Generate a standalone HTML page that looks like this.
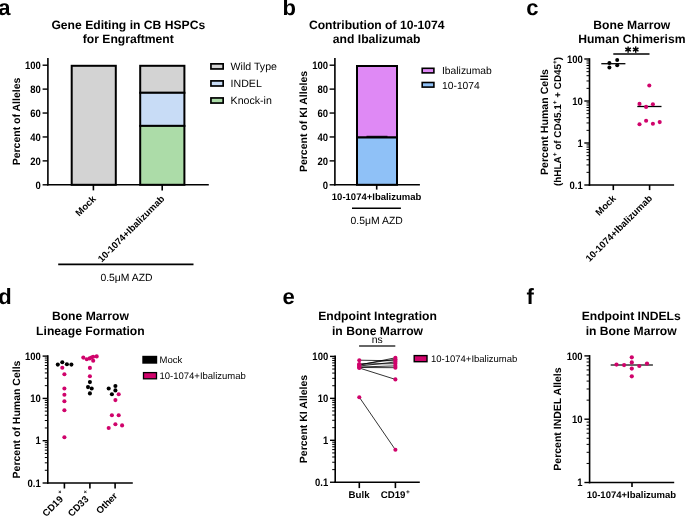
<!DOCTYPE html>
<html><head><meta charset="utf-8"><style>
html,body{margin:0;padding:0;background:#fff;}
svg{display:block;font-family:"Liberation Sans",sans-serif;will-change:transform;text-rendering:geometricPrecision;}
</style></head><body>
<svg width="685" height="516" viewBox="0 0 685 516">
<rect width="685" height="516" fill="#fff"/>
<text x="-1.7" y="14.9" font-size="22" font-weight="bold" text-anchor="start" fill="#000">a</text>
<text x="282.6" y="14.9" font-size="22" font-weight="bold" text-anchor="start" fill="#000">b</text>
<text x="526.2" y="14.9" font-size="22" font-weight="bold" text-anchor="start" fill="#000">c</text>
<text x="-1.7" y="303.9" font-size="22" font-weight="bold" text-anchor="start" fill="#000">d</text>
<text x="282.6" y="303.9" font-size="22" font-weight="bold" text-anchor="start" fill="#000">e</text>
<text x="526.5" y="303.5" font-size="22" font-weight="bold" text-anchor="start" fill="#000">f</text>
<text x="128.3" y="29.3" font-size="12.15" font-weight="bold" text-anchor="middle" fill="#000">Gene Editing in CB HSPCs</text>
<text x="128.3" y="43.3" font-size="12.15" font-weight="bold" text-anchor="middle" fill="#000">for Engraftment</text>
<text x="376.7" y="29.4" font-size="12.15" font-weight="bold" text-anchor="middle" fill="#000">Contribution of 10-1074</text>
<text x="376.7" y="43.4" font-size="12.15" font-weight="bold" text-anchor="middle" fill="#000">and Ibalizumab</text>
<text x="631.8" y="29.1" font-size="12.15" font-weight="bold" text-anchor="middle" fill="#000">Bone Marrow</text>
<text x="631.8" y="43.1" font-size="12.15" font-weight="bold" text-anchor="middle" fill="#000">Human Chimerism</text>
<text x="90.4" y="320.4" font-size="12.15" font-weight="bold" text-anchor="middle" fill="#000">Bone Marrow</text>
<text x="90.4" y="334.59999999999997" font-size="12.15" font-weight="bold" text-anchor="middle" fill="#000">Lineage Formation</text>
<text x="377.5" y="320.4" font-size="12.15" font-weight="bold" text-anchor="middle" fill="#000">Endpoint Integration</text>
<text x="377.5" y="334.59999999999997" font-size="12.15" font-weight="bold" text-anchor="middle" fill="#000">in Bone Marrow</text>
<text x="631.2" y="320.4" font-size="12.15" font-weight="bold" text-anchor="middle" fill="#000">Endpoint INDELs</text>
<text x="631.2" y="334.59999999999997" font-size="12.15" font-weight="bold" text-anchor="middle" fill="#000">in Bone Marrow</text>
<line x1="47.9" y1="57.9" x2="47.9" y2="185.60000000000002" stroke="#000" stroke-width="1.6"/>
<line x1="42.6" y1="184.8" x2="47.9" y2="184.8" stroke="#000" stroke-width="1.4"/>
<text x="0" y="0" font-size="10.8" font-weight="bold" text-anchor="end" fill="#000" transform="translate(40.8 188.55) scale(0.88 1)">0</text>
<line x1="42.6" y1="160.88" x2="47.9" y2="160.88" stroke="#000" stroke-width="1.4"/>
<text x="0" y="0" font-size="10.8" font-weight="bold" text-anchor="end" fill="#000" transform="translate(40.8 164.63) scale(0.88 1)">20</text>
<line x1="42.6" y1="136.96" x2="47.9" y2="136.96" stroke="#000" stroke-width="1.4"/>
<text x="0" y="0" font-size="10.8" font-weight="bold" text-anchor="end" fill="#000" transform="translate(40.8 140.71) scale(0.88 1)">40</text>
<line x1="42.6" y1="113.04" x2="47.9" y2="113.04" stroke="#000" stroke-width="1.4"/>
<text x="0" y="0" font-size="10.8" font-weight="bold" text-anchor="end" fill="#000" transform="translate(40.8 116.79) scale(0.88 1)">60</text>
<line x1="42.6" y1="89.12" x2="47.9" y2="89.12" stroke="#000" stroke-width="1.4"/>
<text x="0" y="0" font-size="10.8" font-weight="bold" text-anchor="end" fill="#000" transform="translate(40.8 92.87) scale(0.88 1)">80</text>
<line x1="42.6" y1="65.20000000000002" x2="47.9" y2="65.20000000000002" stroke="#000" stroke-width="1.4"/>
<text x="0" y="0" font-size="10.8" font-weight="bold" text-anchor="end" fill="#000" transform="translate(40.8 68.95000000000002) scale(0.88 1)">100</text>
<line x1="47.1" y1="184.8" x2="208.8" y2="184.8" stroke="#000" stroke-width="1.6"/>
<rect x="71.7" y="65.8" width="44.1" height="119.00000000000001" fill="#d3d3d3" stroke="#000" stroke-width="2.0"/>
<rect x="140.2" y="65.8" width="44.2" height="27.0" fill="#d3d3d3" stroke="#000" stroke-width="2.0"/>
<rect x="140.2" y="92.8" width="44.2" height="33.10000000000001" fill="#c8dcf6" stroke="#000" stroke-width="2.0"/>
<rect x="140.2" y="125.9" width="44.2" height="58.900000000000006" fill="#acdca8" stroke="#000" stroke-width="2.0"/>
<line x1="93.4" y1="184.8" x2="93.4" y2="190.4" stroke="#000" stroke-width="1.6"/>
<line x1="162.2" y1="184.8" x2="162.2" y2="190.4" stroke="#000" stroke-width="1.6"/>
<text x="96.5" y="199.5" font-size="9.5" font-weight="bold" text-anchor="end" fill="#000" transform="rotate(-45 96.5 199.5)">Mock</text>
<text x="165" y="199.5" font-size="9.5" font-weight="bold" text-anchor="end" fill="#000" transform="rotate(-45 165 199.5)">10-1074+Ibalizumab</text>
<line x1="58.2" y1="264.4" x2="193.5" y2="264.4" stroke="#000" stroke-width="1.6"/>
<text x="126.5" y="281.2" font-size="10.4" text-anchor="middle" fill="#000">0.5&#956;M AZD</text>
<text x="19.5" y="121.5" font-size="10.5" font-weight="bold" text-anchor="middle" fill="#000" transform="rotate(-90 19.5 121.5)">Percent of Alleles</text>
<rect x="210.95" y="63.85000000000001" width="12.2" height="5.1" fill="#d3d3d3" stroke="#000" stroke-width="1.7"/>
<text x="230.6" y="70.10000000000001" font-size="10.6" text-anchor="start" fill="#000">Wild Type</text>
<rect x="210.95" y="80.9" width="12.2" height="5.1" fill="#c8dcf6" stroke="#000" stroke-width="1.7"/>
<text x="230.6" y="87.15" font-size="10.6" text-anchor="start" fill="#000">INDEL</text>
<rect x="210.95" y="97.95" width="12.2" height="5.1" fill="#acdca8" stroke="#000" stroke-width="1.7"/>
<text x="230.6" y="104.2" font-size="10.6" text-anchor="start" fill="#000">Knock-in</text>
<line x1="334.9" y1="57.9" x2="334.9" y2="185.60000000000002" stroke="#000" stroke-width="1.6"/>
<line x1="329.59999999999997" y1="184.8" x2="334.9" y2="184.8" stroke="#000" stroke-width="1.4"/>
<text x="0" y="0" font-size="10.8" font-weight="bold" text-anchor="end" fill="#000" transform="translate(328.0 188.55) scale(0.88 1)">0</text>
<line x1="329.59999999999997" y1="160.88" x2="334.9" y2="160.88" stroke="#000" stroke-width="1.4"/>
<text x="0" y="0" font-size="10.8" font-weight="bold" text-anchor="end" fill="#000" transform="translate(328.0 164.63) scale(0.88 1)">20</text>
<line x1="329.59999999999997" y1="136.96" x2="334.9" y2="136.96" stroke="#000" stroke-width="1.4"/>
<text x="0" y="0" font-size="10.8" font-weight="bold" text-anchor="end" fill="#000" transform="translate(328.0 140.71) scale(0.88 1)">40</text>
<line x1="329.59999999999997" y1="113.04" x2="334.9" y2="113.04" stroke="#000" stroke-width="1.4"/>
<text x="0" y="0" font-size="10.8" font-weight="bold" text-anchor="end" fill="#000" transform="translate(328.0 116.79) scale(0.88 1)">60</text>
<line x1="329.59999999999997" y1="89.12" x2="334.9" y2="89.12" stroke="#000" stroke-width="1.4"/>
<text x="0" y="0" font-size="10.8" font-weight="bold" text-anchor="end" fill="#000" transform="translate(328.0 92.87) scale(0.88 1)">80</text>
<line x1="329.59999999999997" y1="65.20000000000002" x2="334.9" y2="65.20000000000002" stroke="#000" stroke-width="1.4"/>
<text x="0" y="0" font-size="10.8" font-weight="bold" text-anchor="end" fill="#000" transform="translate(328.0 68.95000000000002) scale(0.88 1)">100</text>
<line x1="334.09999999999997" y1="184.8" x2="419.9" y2="184.8" stroke="#000" stroke-width="1.6"/>
<rect x="357.0" y="66.0" width="40.0" height="71.5" fill="#df89f5" stroke="#000" stroke-width="2.0"/>
<rect x="357.0" y="137.5" width="40.0" height="47.30000000000001" fill="#8fc1f7" stroke="#000" stroke-width="2.0"/>
<line x1="366.5" y1="136.3" x2="387.5" y2="136.3" stroke="#000" stroke-width="1.0"/>
<line x1="376.7" y1="184.8" x2="376.7" y2="189.6" stroke="#000" stroke-width="1.6"/>
<text x="376.6" y="200.1" font-size="9.5" font-weight="bold" text-anchor="middle" fill="#000">10-1074+Ibalizumab</text>
<line x1="352" y1="208.2" x2="400.9" y2="208.2" stroke="#000" stroke-width="1.6"/>
<text x="376.7" y="223.8" font-size="10.4" text-anchor="middle" fill="#000">0.5&#956;M AZD</text>
<text x="307" y="121.5" font-size="10.5" font-weight="bold" text-anchor="middle" fill="#000" transform="rotate(-90 307 121.5)">Percent of KI Alleles</text>
<rect x="422.2" y="68.3" width="11.7" height="4.6" fill="#df89f5" stroke="#000" stroke-width="1.6"/>
<text x="442.0" y="74.3" font-size="10.3" text-anchor="start" fill="#000">Ibalizumab</text>
<rect x="422.2" y="82.5" width="11.7" height="4.6" fill="#8fc1f7" stroke="#000" stroke-width="1.6"/>
<text x="442.0" y="88.5" font-size="10.3" text-anchor="start" fill="#000">10-1074</text>
<line x1="589.5" y1="58.2" x2="589.5" y2="185.8" stroke="#000" stroke-width="1.6"/>
<line x1="584.3" y1="59.0" x2="589.5" y2="59.0" stroke="#000" stroke-width="1.4"/>
<text x="0" y="0" font-size="10.8" font-weight="bold" text-anchor="end" fill="#000" transform="translate(582.8 62.75) scale(0.88 1)">100</text>
<line x1="584.3" y1="101.0" x2="589.5" y2="101.0" stroke="#000" stroke-width="1.4"/>
<text x="0" y="0" font-size="10.8" font-weight="bold" text-anchor="end" fill="#000" transform="translate(582.8 104.75) scale(0.88 1)">10</text>
<line x1="584.3" y1="143.0" x2="589.5" y2="143.0" stroke="#000" stroke-width="1.4"/>
<text x="0" y="0" font-size="10.8" font-weight="bold" text-anchor="end" fill="#000" transform="translate(582.8 146.75) scale(0.88 1)">1</text>
<line x1="584.3" y1="185.0" x2="589.5" y2="185.0" stroke="#000" stroke-width="1.4"/>
<text x="0" y="0" font-size="10.8" font-weight="bold" text-anchor="end" fill="#000" transform="translate(582.8 188.75) scale(0.88 1)">0.1</text>
<line x1="586.5" y1="88.35674018211279" x2="589.5" y2="88.35674018211279" stroke="#000" stroke-width="1.0"/>
<line x1="586.5" y1="80.96090730177418" x2="589.5" y2="80.96090730177418" stroke="#000" stroke-width="1.0"/>
<line x1="586.5" y1="75.71348036422557" x2="589.5" y2="75.71348036422557" stroke="#000" stroke-width="1.0"/>
<line x1="586.5" y1="71.64325981788721" x2="589.5" y2="71.64325981788721" stroke="#000" stroke-width="1.0"/>
<line x1="586.5" y1="68.31764748388697" x2="589.5" y2="68.31764748388697" stroke="#000" stroke-width="1.0"/>
<line x1="586.5" y1="65.50588231940121" x2="589.5" y2="65.50588231940121" stroke="#000" stroke-width="1.0"/>
<line x1="586.5" y1="63.07022054633837" x2="589.5" y2="63.07022054633837" stroke="#000" stroke-width="1.0"/>
<line x1="586.5" y1="60.92181460354836" x2="589.5" y2="60.92181460354836" stroke="#000" stroke-width="1.0"/>
<line x1="586.5" y1="130.3567401821128" x2="589.5" y2="130.3567401821128" stroke="#000" stroke-width="1.0"/>
<line x1="586.5" y1="122.96090730177417" x2="589.5" y2="122.96090730177417" stroke="#000" stroke-width="1.0"/>
<line x1="586.5" y1="117.71348036422557" x2="589.5" y2="117.71348036422557" stroke="#000" stroke-width="1.0"/>
<line x1="586.5" y1="113.64325981788721" x2="589.5" y2="113.64325981788721" stroke="#000" stroke-width="1.0"/>
<line x1="586.5" y1="110.31764748388696" x2="589.5" y2="110.31764748388696" stroke="#000" stroke-width="1.0"/>
<line x1="586.5" y1="107.50588231940121" x2="589.5" y2="107.50588231940121" stroke="#000" stroke-width="1.0"/>
<line x1="586.5" y1="105.07022054633836" x2="589.5" y2="105.07022054633836" stroke="#000" stroke-width="1.0"/>
<line x1="586.5" y1="102.92181460354837" x2="589.5" y2="102.92181460354837" stroke="#000" stroke-width="1.0"/>
<line x1="586.5" y1="172.3567401821128" x2="589.5" y2="172.3567401821128" stroke="#000" stroke-width="1.0"/>
<line x1="586.5" y1="164.96090730177417" x2="589.5" y2="164.96090730177417" stroke="#000" stroke-width="1.0"/>
<line x1="586.5" y1="159.71348036422557" x2="589.5" y2="159.71348036422557" stroke="#000" stroke-width="1.0"/>
<line x1="586.5" y1="155.6432598178872" x2="589.5" y2="155.6432598178872" stroke="#000" stroke-width="1.0"/>
<line x1="586.5" y1="152.31764748388696" x2="589.5" y2="152.31764748388696" stroke="#000" stroke-width="1.0"/>
<line x1="586.5" y1="149.50588231940122" x2="589.5" y2="149.50588231940122" stroke="#000" stroke-width="1.0"/>
<line x1="586.5" y1="147.07022054633836" x2="589.5" y2="147.07022054633836" stroke="#000" stroke-width="1.0"/>
<line x1="586.5" y1="144.92181460354834" x2="589.5" y2="144.92181460354834" stroke="#000" stroke-width="1.0"/>
<line x1="588.7" y1="185.0" x2="674.1" y2="185.0" stroke="#000" stroke-width="1.6"/>
<line x1="613.3" y1="185.0" x2="613.3" y2="190.1" stroke="#000" stroke-width="1.6"/>
<line x1="649.6" y1="185.0" x2="649.6" y2="190.1" stroke="#000" stroke-width="1.6"/>
<line x1="601.3" y1="63.7" x2="625.4" y2="63.7" stroke="#000" stroke-width="1.3"/>
<circle cx="609.4" cy="63.1" r="2.0" fill="#000"/>
<circle cx="609.4" cy="67.55" r="2.0" fill="#000"/>
<circle cx="617.2" cy="60.1" r="2.0" fill="#000"/>
<circle cx="617.2" cy="65.2" r="2.0" fill="#000"/>
<line x1="637.3" y1="106.5" x2="661.5" y2="106.5" stroke="#000" stroke-width="1.3"/>
<circle cx="649.3" cy="85.5" r="2.05" fill="#d0036b"/>
<circle cx="639.5" cy="103.9" r="2.05" fill="#d0036b"/>
<circle cx="646.1" cy="106.9" r="2.05" fill="#d0036b"/>
<circle cx="652.9" cy="104.2" r="2.05" fill="#d0036b"/>
<circle cx="639.5" cy="124.2" r="2.05" fill="#d0036b"/>
<circle cx="646.1" cy="120.8" r="2.05" fill="#d0036b"/>
<circle cx="652.9" cy="123.8" r="2.05" fill="#d0036b"/>
<circle cx="659.7" cy="122.1" r="2.05" fill="#d0036b"/>
<line x1="613.3" y1="54.1" x2="649.5" y2="54.1" stroke="#000" stroke-width="1.5"/>
<line x1="628.1" y1="46.4" x2="628.1" y2="52.8" stroke="#000" stroke-width="1.45"/>
<line x1="625.33" y1="48.0" x2="630.87" y2="51.2" stroke="#000" stroke-width="1.45"/>
<line x1="625.33" y1="51.2" x2="630.87" y2="48.0" stroke="#000" stroke-width="1.45"/>
<line x1="635.7" y1="46.4" x2="635.7" y2="52.8" stroke="#000" stroke-width="1.45"/>
<line x1="632.93" y1="48.0" x2="638.47" y2="51.2" stroke="#000" stroke-width="1.45"/>
<line x1="632.93" y1="51.2" x2="638.47" y2="48.0" stroke="#000" stroke-width="1.45"/>
<text x="616.5" y="199" font-size="9.5" font-weight="bold" text-anchor="end" fill="#000" transform="rotate(-45 616.5 199)">Mock</text>
<text x="652.8" y="199" font-size="9.5" font-weight="bold" text-anchor="end" fill="#000" transform="rotate(-45 652.8 199)">10-1074+Ibalizumab</text>
<text x="548.2" y="122" font-size="10.6" font-weight="bold" text-anchor="middle" fill="#000" transform="rotate(-90 548.2 122)">Percent Human Cells</text>
<text x="561.2" y="121.4" font-size="9.9" font-weight="bold" text-anchor="middle" transform="rotate(-90 561.2 121.4)">(hHLA<tspan font-size="6.5" dy="-4">+</tspan><tspan dy="4"> of CD45.1</tspan><tspan font-size="6.5" dy="-4">+</tspan><tspan dy="4"> + CD45</tspan><tspan font-size="6.5" dy="-4">+</tspan><tspan dy="4">)</tspan></text>
<line x1="47.8" y1="355.3" x2="47.8" y2="483.8" stroke="#000" stroke-width="1.6"/>
<line x1="42.599999999999994" y1="356.1" x2="47.8" y2="356.1" stroke="#000" stroke-width="1.4"/>
<text x="0" y="0" font-size="10.8" font-weight="bold" text-anchor="end" fill="#000" transform="translate(40.8 359.85) scale(0.88 1)">100</text>
<line x1="42.599999999999994" y1="398.40000000000003" x2="47.8" y2="398.40000000000003" stroke="#000" stroke-width="1.4"/>
<text x="0" y="0" font-size="10.8" font-weight="bold" text-anchor="end" fill="#000" transform="translate(40.8 402.15000000000003) scale(0.88 1)">10</text>
<line x1="42.599999999999994" y1="440.70000000000005" x2="47.8" y2="440.70000000000005" stroke="#000" stroke-width="1.4"/>
<text x="0" y="0" font-size="10.8" font-weight="bold" text-anchor="end" fill="#000" transform="translate(40.8 444.45000000000005) scale(0.88 1)">1</text>
<line x1="42.599999999999994" y1="483.0" x2="47.8" y2="483.0" stroke="#000" stroke-width="1.4"/>
<text x="0" y="0" font-size="10.8" font-weight="bold" text-anchor="end" fill="#000" transform="translate(40.8 486.75) scale(0.88 1)">0.1</text>
<line x1="44.8" y1="385.66643118341364" x2="47.8" y2="385.66643118341364" stroke="#000" stroke-width="1.0"/>
<line x1="44.8" y1="378.2177709253583" x2="47.8" y2="378.2177709253583" stroke="#000" stroke-width="1.0"/>
<line x1="44.8" y1="372.9328623668272" x2="47.8" y2="372.9328623668272" stroke="#000" stroke-width="1.0"/>
<line x1="44.8" y1="368.8335688165864" x2="47.8" y2="368.8335688165864" stroke="#000" stroke-width="1.0"/>
<line x1="44.8" y1="365.4842021087719" x2="47.8" y2="365.4842021087719" stroke="#000" stroke-width="1.0"/>
<line x1="44.8" y1="362.65235290739696" x2="47.8" y2="362.65235290739696" stroke="#000" stroke-width="1.0"/>
<line x1="44.8" y1="360.19929355024084" x2="47.8" y2="360.19929355024084" stroke="#000" stroke-width="1.0"/>
<line x1="44.8" y1="358.0355418507166" x2="47.8" y2="358.0355418507166" stroke="#000" stroke-width="1.0"/>
<line x1="44.8" y1="427.9664311834136" x2="47.8" y2="427.9664311834136" stroke="#000" stroke-width="1.0"/>
<line x1="44.8" y1="420.5177709253583" x2="47.8" y2="420.5177709253583" stroke="#000" stroke-width="1.0"/>
<line x1="44.8" y1="415.2328623668272" x2="47.8" y2="415.2328623668272" stroke="#000" stroke-width="1.0"/>
<line x1="44.8" y1="411.13356881658643" x2="47.8" y2="411.13356881658643" stroke="#000" stroke-width="1.0"/>
<line x1="44.8" y1="407.78420210877186" x2="47.8" y2="407.78420210877186" stroke="#000" stroke-width="1.0"/>
<line x1="44.8" y1="404.95235290739697" x2="47.8" y2="404.95235290739697" stroke="#000" stroke-width="1.0"/>
<line x1="44.8" y1="402.4992935502408" x2="47.8" y2="402.4992935502408" stroke="#000" stroke-width="1.0"/>
<line x1="44.8" y1="400.3355418507166" x2="47.8" y2="400.3355418507166" stroke="#000" stroke-width="1.0"/>
<line x1="44.8" y1="470.2664311834136" x2="47.8" y2="470.2664311834136" stroke="#000" stroke-width="1.0"/>
<line x1="44.8" y1="462.8177709253583" x2="47.8" y2="462.8177709253583" stroke="#000" stroke-width="1.0"/>
<line x1="44.8" y1="457.5328623668272" x2="47.8" y2="457.5328623668272" stroke="#000" stroke-width="1.0"/>
<line x1="44.8" y1="453.43356881658644" x2="47.8" y2="453.43356881658644" stroke="#000" stroke-width="1.0"/>
<line x1="44.8" y1="450.0842021087719" x2="47.8" y2="450.0842021087719" stroke="#000" stroke-width="1.0"/>
<line x1="44.8" y1="447.2523529073969" x2="47.8" y2="447.2523529073969" stroke="#000" stroke-width="1.0"/>
<line x1="44.8" y1="444.7992935502408" x2="47.8" y2="444.7992935502408" stroke="#000" stroke-width="1.0"/>
<line x1="44.8" y1="442.63554185071655" x2="47.8" y2="442.63554185071655" stroke="#000" stroke-width="1.0"/>
<line x1="47.0" y1="483.0" x2="132.8" y2="483.0" stroke="#000" stroke-width="1.6"/>
<line x1="64.4" y1="483.0" x2="64.4" y2="488.5" stroke="#000" stroke-width="1.6"/>
<line x1="89.9" y1="483.0" x2="89.9" y2="488.5" stroke="#000" stroke-width="1.6"/>
<line x1="115.1" y1="483.0" x2="115.1" y2="488.5" stroke="#000" stroke-width="1.6"/>
<text x="19.7" y="419.5" font-size="10.5" font-weight="bold" text-anchor="middle" fill="#000" transform="rotate(-90 19.7 419.5)">Percent of Human Cells</text>
<text x="67" y="496.5" font-size="9.6" font-weight="bold" text-anchor="end" transform="rotate(-45 67 496.5)">CD19<tspan font-size="6" dy="-6.3" dx="1.2">+</tspan></text>
<text x="92.5" y="496.5" font-size="9.6" font-weight="bold" text-anchor="end" transform="rotate(-45 92.5 496.5)">CD33<tspan font-size="6" dy="-6.3" dx="1.2">+</tspan></text>
<text x="118" y="496.5" font-size="9.6" font-weight="bold" text-anchor="end" fill="#000" transform="rotate(-45 118 496.5)">Other</text>
<circle cx="57.8" cy="364.6" r="2.05" fill="#000"/>
<circle cx="62.3" cy="362.3" r="2.05" fill="#000"/>
<circle cx="66.9" cy="364.2" r="2.05" fill="#000"/>
<circle cx="71.4" cy="364.6" r="2.05" fill="#000"/>
<circle cx="89.9" cy="382.1" r="2.05" fill="#000"/>
<circle cx="88.0" cy="387.1" r="2.05" fill="#000"/>
<circle cx="91.7" cy="388.5" r="2.05" fill="#000"/>
<circle cx="89.9" cy="393.4" r="2.05" fill="#000"/>
<circle cx="108.7" cy="388.5" r="2.05" fill="#000"/>
<circle cx="115.4" cy="386.0" r="2.05" fill="#000"/>
<circle cx="115.4" cy="390.4" r="2.05" fill="#000"/>
<circle cx="111.9" cy="394.2" r="2.05" fill="#000"/>
<circle cx="62.3" cy="367.8" r="2.05" fill="#d0036b"/>
<circle cx="64.4" cy="374.2" r="2.05" fill="#d0036b"/>
<circle cx="64.4" cy="388.5" r="2.05" fill="#d0036b"/>
<circle cx="64.4" cy="394.8" r="2.05" fill="#d0036b"/>
<circle cx="64.4" cy="401.2" r="2.05" fill="#d0036b"/>
<circle cx="64.4" cy="410.2" r="2.05" fill="#d0036b"/>
<circle cx="64.4" cy="437.3" r="2.05" fill="#d0036b"/>
<circle cx="83.3" cy="357.6" r="2.05" fill="#d0036b"/>
<circle cx="86.8" cy="359.3" r="2.05" fill="#d0036b"/>
<circle cx="89.7" cy="358.4" r="2.05" fill="#d0036b"/>
<circle cx="91.5" cy="357.5" r="2.05" fill="#d0036b"/>
<circle cx="93.2" cy="356.7" r="2.05" fill="#d0036b"/>
<circle cx="96.7" cy="356.4" r="2.05" fill="#d0036b"/>
<circle cx="93.2" cy="360.7" r="2.05" fill="#d0036b"/>
<circle cx="89.9" cy="367.9" r="2.05" fill="#d0036b"/>
<circle cx="89.9" cy="376.3" r="2.05" fill="#d0036b"/>
<circle cx="118.7" cy="394.2" r="2.05" fill="#d0036b"/>
<circle cx="115.4" cy="400.1" r="2.05" fill="#d0036b"/>
<circle cx="111.9" cy="415.3" r="2.05" fill="#d0036b"/>
<circle cx="118.7" cy="415.3" r="2.05" fill="#d0036b"/>
<circle cx="115.4" cy="424.2" r="2.05" fill="#d0036b"/>
<circle cx="122.1" cy="425.4" r="2.05" fill="#d0036b"/>
<circle cx="108.7" cy="428.0" r="2.05" fill="#d0036b"/>
<rect x="142.3" y="355.8" width="14.9" height="7.9" fill="#000"/>
<rect x="143.5" y="372.6" width="13" height="6.2" fill="#d0036b" stroke="#000" stroke-width="1.3"/>
<text x="159.5" y="362.8" font-size="9.5" text-anchor="start" fill="#000">Mock</text>
<text x="159.5" y="378.9" font-size="9.5" text-anchor="start" fill="#000">10-1074+Ibalizumab</text>
<line x1="335.2" y1="355.59999999999997" x2="335.2" y2="483.05" stroke="#000" stroke-width="1.6"/>
<line x1="330.0" y1="356.4" x2="335.2" y2="356.4" stroke="#000" stroke-width="1.4"/>
<text x="0" y="0" font-size="10.8" font-weight="bold" text-anchor="end" fill="#000" transform="translate(328.2 360.15) scale(0.88 1)">100</text>
<line x1="330.0" y1="398.34999999999997" x2="335.2" y2="398.34999999999997" stroke="#000" stroke-width="1.4"/>
<text x="0" y="0" font-size="10.8" font-weight="bold" text-anchor="end" fill="#000" transform="translate(328.2 402.09999999999997) scale(0.88 1)">10</text>
<line x1="330.0" y1="440.29999999999995" x2="335.2" y2="440.29999999999995" stroke="#000" stroke-width="1.4"/>
<text x="0" y="0" font-size="10.8" font-weight="bold" text-anchor="end" fill="#000" transform="translate(328.2 444.04999999999995) scale(0.88 1)">1</text>
<line x1="330.0" y1="482.25" x2="335.2" y2="482.25" stroke="#000" stroke-width="1.4"/>
<text x="0" y="0" font-size="10.8" font-weight="bold" text-anchor="end" fill="#000" transform="translate(328.2 486.0) scale(0.88 1)">0.1</text>
<line x1="332.2" y1="385.721791681896" x2="335.2" y2="385.721791681896" stroke="#000" stroke-width="1.0"/>
<line x1="332.2" y1="378.33476336451014" x2="335.2" y2="378.33476336451014" stroke="#000" stroke-width="1.0"/>
<line x1="332.2" y1="373.09358336379194" x2="335.2" y2="373.09358336379194" stroke="#000" stroke-width="1.0"/>
<line x1="332.2" y1="369.028208318104" x2="335.2" y2="369.028208318104" stroke="#000" stroke-width="1.0"/>
<line x1="332.2" y1="365.70655504640615" x2="335.2" y2="365.70655504640615" stroke="#000" stroke-width="1.0"/>
<line x1="332.2" y1="362.8981372214019" x2="335.2" y2="362.8981372214019" stroke="#000" stroke-width="1.0"/>
<line x1="332.2" y1="360.46537504568795" x2="335.2" y2="360.46537504568795" stroke="#000" stroke-width="1.0"/>
<line x1="332.2" y1="358.3195267290203" x2="335.2" y2="358.3195267290203" stroke="#000" stroke-width="1.0"/>
<line x1="332.2" y1="427.67179168189597" x2="335.2" y2="427.67179168189597" stroke="#000" stroke-width="1.0"/>
<line x1="332.2" y1="420.2847633645101" x2="335.2" y2="420.2847633645101" stroke="#000" stroke-width="1.0"/>
<line x1="332.2" y1="415.043583363792" x2="335.2" y2="415.043583363792" stroke="#000" stroke-width="1.0"/>
<line x1="332.2" y1="410.978208318104" x2="335.2" y2="410.978208318104" stroke="#000" stroke-width="1.0"/>
<line x1="332.2" y1="407.65655504640614" x2="335.2" y2="407.65655504640614" stroke="#000" stroke-width="1.0"/>
<line x1="332.2" y1="404.8481372214019" x2="335.2" y2="404.8481372214019" stroke="#000" stroke-width="1.0"/>
<line x1="332.2" y1="402.41537504568794" x2="335.2" y2="402.41537504568794" stroke="#000" stroke-width="1.0"/>
<line x1="332.2" y1="400.2695267290203" x2="335.2" y2="400.2695267290203" stroke="#000" stroke-width="1.0"/>
<line x1="332.2" y1="469.62179168189596" x2="335.2" y2="469.62179168189596" stroke="#000" stroke-width="1.0"/>
<line x1="332.2" y1="462.2347633645102" x2="335.2" y2="462.2347633645102" stroke="#000" stroke-width="1.0"/>
<line x1="332.2" y1="456.99358336379197" x2="335.2" y2="456.99358336379197" stroke="#000" stroke-width="1.0"/>
<line x1="332.2" y1="452.928208318104" x2="335.2" y2="452.928208318104" stroke="#000" stroke-width="1.0"/>
<line x1="332.2" y1="449.60655504640613" x2="335.2" y2="449.60655504640613" stroke="#000" stroke-width="1.0"/>
<line x1="332.2" y1="446.79813722140193" x2="335.2" y2="446.79813722140193" stroke="#000" stroke-width="1.0"/>
<line x1="332.2" y1="444.3653750456879" x2="335.2" y2="444.3653750456879" stroke="#000" stroke-width="1.0"/>
<line x1="332.2" y1="442.21952672902034" x2="335.2" y2="442.21952672902034" stroke="#000" stroke-width="1.0"/>
<line x1="334.4" y1="482.25" x2="419.8" y2="482.25" stroke="#000" stroke-width="1.6"/>
<line x1="359.3" y1="482.25" x2="359.3" y2="488.1" stroke="#000" stroke-width="1.6"/>
<line x1="395.4" y1="482.25" x2="395.4" y2="488.1" stroke="#000" stroke-width="1.6"/>
<text x="359.1" y="498.1" font-size="9.7" font-weight="bold" text-anchor="middle" fill="#000">Bulk</text>
<text x="395.3" y="498.1" font-size="9.7" font-weight="bold" text-anchor="middle">CD19<tspan font-size="6.5" dy="-4.2" dx="0.6">+</tspan></text>
<text x="306.7" y="419" font-size="10.5" font-weight="bold" text-anchor="middle" fill="#000" transform="rotate(-90 306.7 419)">Percent KI Alleles</text>
<line x1="359.3" y1="360.2" x2="395.4" y2="360.8" stroke="#000" stroke-width="0.8"/>
<line x1="359.3" y1="365.0" x2="395.4" y2="357.8" stroke="#000" stroke-width="0.8"/>
<line x1="359.3" y1="364.5" x2="395.4" y2="359.3" stroke="#000" stroke-width="0.8"/>
<line x1="359.3" y1="364.0" x2="395.4" y2="363.7" stroke="#000" stroke-width="0.8"/>
<line x1="359.3" y1="366.0" x2="395.4" y2="362.0" stroke="#000" stroke-width="0.8"/>
<line x1="359.3" y1="367.0" x2="395.4" y2="365.9" stroke="#000" stroke-width="0.8"/>
<line x1="359.3" y1="367.5" x2="395.4" y2="367.7" stroke="#000" stroke-width="0.8"/>
<line x1="359.3" y1="368.0" x2="395.4" y2="379.4" stroke="#000" stroke-width="0.8"/>
<line x1="359.3" y1="397.2" x2="395.4" y2="449.8" stroke="#000" stroke-width="0.8"/>
<circle cx="359.3" cy="360.2" r="2.05" fill="#d0036b"/>
<circle cx="395.4" cy="360.8" r="2.05" fill="#d0036b"/>
<circle cx="359.3" cy="365.0" r="2.05" fill="#d0036b"/>
<circle cx="395.4" cy="357.8" r="2.05" fill="#d0036b"/>
<circle cx="359.3" cy="364.5" r="2.05" fill="#d0036b"/>
<circle cx="395.4" cy="359.3" r="2.05" fill="#d0036b"/>
<circle cx="359.3" cy="364.0" r="2.05" fill="#d0036b"/>
<circle cx="395.4" cy="363.7" r="2.05" fill="#d0036b"/>
<circle cx="359.3" cy="366.0" r="2.05" fill="#d0036b"/>
<circle cx="395.4" cy="362.0" r="2.05" fill="#d0036b"/>
<circle cx="359.3" cy="367.0" r="2.05" fill="#d0036b"/>
<circle cx="395.4" cy="365.9" r="2.05" fill="#d0036b"/>
<circle cx="359.3" cy="367.5" r="2.05" fill="#d0036b"/>
<circle cx="395.4" cy="367.7" r="2.05" fill="#d0036b"/>
<circle cx="359.3" cy="368.0" r="2.05" fill="#d0036b"/>
<circle cx="395.4" cy="379.4" r="2.05" fill="#d0036b"/>
<circle cx="359.3" cy="397.2" r="2.05" fill="#d0036b"/>
<circle cx="395.4" cy="449.8" r="2.05" fill="#d0036b"/>
<line x1="359.1" y1="345.9" x2="395.3" y2="345.9" stroke="#333" stroke-width="1.5"/>
<text x="377.2" y="343" font-size="10.4" text-anchor="middle" fill="#000">ns</text>
<rect x="414.2" y="355.6" width="12.8" height="6.1" fill="#d0036b" stroke="#000" stroke-width="1.4"/>
<text x="431.0" y="361.9" font-size="9.5" text-anchor="start" fill="#000">10-1074+Ibalizumab</text>
<line x1="589.6" y1="355.09999999999997" x2="589.6" y2="483.3" stroke="#000" stroke-width="1.6"/>
<line x1="584.4" y1="355.9" x2="589.6" y2="355.9" stroke="#000" stroke-width="1.4"/>
<text x="0" y="0" font-size="10.8" font-weight="bold" text-anchor="end" fill="#000" transform="translate(582.6 359.65) scale(0.88 1)">100</text>
<line x1="584.4" y1="419.2" x2="589.6" y2="419.2" stroke="#000" stroke-width="1.4"/>
<text x="0" y="0" font-size="10.8" font-weight="bold" text-anchor="end" fill="#000" transform="translate(582.6 422.95) scale(0.88 1)">10</text>
<line x1="584.4" y1="482.5" x2="589.6" y2="482.5" stroke="#000" stroke-width="1.4"/>
<text x="0" y="0" font-size="10.8" font-weight="bold" text-anchor="end" fill="#000" transform="translate(582.6 486.25) scale(0.88 1)">1</text>
<line x1="586.6" y1="400.14480127446996" x2="589.6" y2="400.14480127446996" stroke="#000" stroke-width="1.0"/>
<line x1="586.6" y1="388.9982245762453" x2="589.6" y2="388.9982245762453" stroke="#000" stroke-width="1.0"/>
<line x1="586.6" y1="381.08960254894" x2="589.6" y2="381.08960254894" stroke="#000" stroke-width="1.0"/>
<line x1="586.6" y1="374.95519872553" x2="589.6" y2="374.95519872553" stroke="#000" stroke-width="1.0"/>
<line x1="586.6" y1="369.94302585071534" x2="589.6" y2="369.94302585071534" stroke="#000" stroke-width="1.0"/>
<line x1="586.6" y1="365.7052940670975" x2="589.6" y2="365.7052940670975" stroke="#000" stroke-width="1.0"/>
<line x1="586.6" y1="362.03440382340995" x2="589.6" y2="362.03440382340995" stroke="#000" stroke-width="1.0"/>
<line x1="586.6" y1="358.7964491524907" x2="589.6" y2="358.7964491524907" stroke="#000" stroke-width="1.0"/>
<line x1="586.6" y1="463.44480127446997" x2="589.6" y2="463.44480127446997" stroke="#000" stroke-width="1.0"/>
<line x1="586.6" y1="452.29822457624533" x2="589.6" y2="452.29822457624533" stroke="#000" stroke-width="1.0"/>
<line x1="586.6" y1="444.38960254893993" x2="589.6" y2="444.38960254893993" stroke="#000" stroke-width="1.0"/>
<line x1="586.6" y1="438.25519872553" x2="589.6" y2="438.25519872553" stroke="#000" stroke-width="1.0"/>
<line x1="586.6" y1="433.2430258507153" x2="589.6" y2="433.2430258507153" stroke="#000" stroke-width="1.0"/>
<line x1="586.6" y1="429.0052940670975" x2="589.6" y2="429.0052940670975" stroke="#000" stroke-width="1.0"/>
<line x1="586.6" y1="425.33440382340996" x2="589.6" y2="425.33440382340996" stroke="#000" stroke-width="1.0"/>
<line x1="586.6" y1="422.0964491524907" x2="589.6" y2="422.0964491524907" stroke="#000" stroke-width="1.0"/>
<line x1="588.8000000000001" y1="482.5" x2="674.2" y2="482.5" stroke="#000" stroke-width="1.6"/>
<line x1="632" y1="482.5" x2="632" y2="487" stroke="#000" stroke-width="1.6"/>
<text x="631.4" y="497.8" font-size="9.5" font-weight="bold" text-anchor="middle" fill="#000">10-1074+Ibalizumab</text>
<text x="560.5" y="419" font-size="10.5" font-weight="bold" text-anchor="middle" fill="#000" transform="rotate(-90 560.5 419)">Percent INDEL Allels</text>
<line x1="610.7" y1="365.0" x2="652.9" y2="365.0" stroke="#383838" stroke-width="1.7"/>
<circle cx="616.5" cy="364.6" r="2.1" fill="#d0036b"/>
<circle cx="624.1" cy="365.1" r="2.1" fill="#d0036b"/>
<circle cx="631.8" cy="357.3" r="2.1" fill="#d0036b"/>
<circle cx="631.8" cy="362.4" r="2.1" fill="#d0036b"/>
<circle cx="631.8" cy="368.6" r="2.1" fill="#d0036b"/>
<circle cx="631.8" cy="376.3" r="2.1" fill="#d0036b"/>
<circle cx="639.3" cy="366.0" r="2.1" fill="#d0036b"/>
<circle cx="647.0" cy="363.6" r="2.1" fill="#d0036b"/>
</svg>
</body></html>
